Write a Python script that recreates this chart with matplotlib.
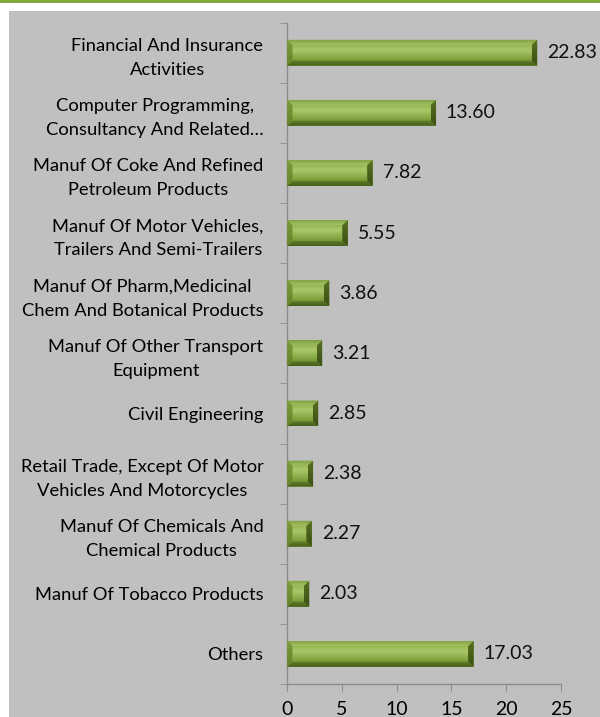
import numpy as np
import matplotlib.pyplot as plt
from matplotlib.colors import to_rgb
from matplotlib.patches import Rectangle, Polygon

# sectors, top to bottom
sectors = [
    "Financial And Insurance\nActivities",
    "Computer Programming,\nConsultancy And Related…",
    "Manuf Of Coke And Refined\nPetroleum Products",
    "Manuf Of Motor Vehicles,\nTrailers And Semi-Trailers",
    "Manuf Of Pharm,Medicinal\nChem And Botanical Products",
    "Manuf Of Other Transport\nEquipment",
    "Civil Engineering",
    "Retail Trade, Except Of Motor\nVehicles And Motorcycles",
    "Manuf Of Chemicals And\nChemical Products",
    "Manuf Of Tobacco Products",
    "Others",
]
shares = [22.83, 13.60, 7.82, 5.55, 3.86, 3.21, 2.85, 2.38, 2.27, 2.03, 17.03]
xticks = [0, 5, 10, 15, 20, 25]

plt.rcParams['font.family'] = ['Lato', 'DejaVu Sans']

fig = plt.figure(figsize=(6, 7.17), dpi=100)
fig.patch.set_facecolor('white')

# grey panel and green rule at the top
fig.patches.append(Rectangle((9 / 600, 0), 1, 1 - 11 / 717, transform=fig.transFigure,
                             facecolor='#c0c0c0', edgecolor='none', zorder=-2))
fig.patches.append(Rectangle((0, 1 - 2.5 / 717), 1, 2.5 / 717, transform=fig.transFigure,
                             facecolor='#7ea73c', edgecolor='none', zorder=-2))

ax = fig.add_axes([287 / 600, 1 - 684 / 717, (561 - 287) / 600, (684 - 22.7) / 717])
ax.set_facecolor('none')


def gradient(c_top, c_bot, horizontal=False, n=32):
    a, b = np.array(to_rgb(c_top)), np.array(to_rgb(c_bot))
    t = np.linspace(0, 1, n)[:, None]
    g = a + (b - a) * t
    if horizontal:
        return g[None, :, :]
    return g[:, None, :]


def shaded(poly, img, x0, x1, y0, y1):
    p = Polygon(poly, closed=True, facecolor='none', edgecolor='none')
    ax.add_patch(p)
    im = ax.imshow(img, extent=(x0, x1, y1, y0), origin='upper', aspect='auto',
                   interpolation='bilinear', zorder=3)
    im.set_clip_path(p)


n = len(sectors)
ypos = list(range(n))
h = 0.43
bars = ax.barh(ypos, shares, height=h, color='#86a843', edgecolor='none', zorder=2)

# bevelled faces on each bar
dx = 0.5    # about 5 px horizontally
dy = 0.085  # about 5 px vertically
face = np.vstack([gradient('#96b654', '#a8c868', n=10)[:, 0],
                  gradient('#a8c868', '#789a36', n=22)[:, 0]])[:, None, :]
for y, v in zip(ypos, shares):
    top, bot = y - h / 2, y + h / 2   # inverted axis: top is smaller y
    ex = min(dx, v / 2)
    shaded([(ex, top + dy), (v - ex, top + dy), (v - ex, bot - dy), (ex, bot - dy)],
           face, 0, v, top + dy, bot - dy)
    shaded([(0, top), (v, top), (v - ex, top + dy), (ex, top + dy)],
           gradient('#7d9c3e', '#a2c262'), 0, v, top, top + dy)
    shaded([(0, bot), (v, bot), (v - ex, bot - dy), (ex, bot - dy)],
           gradient('#63822a', '#465e1a'), 0, v, bot - dy, bot)
    shaded([(v, top), (v, bot), (v - ex, bot - dy), (v - ex, top + dy)],
           gradient('#566f22', '#3a5014'), v - ex, v, top, bot)
    shaded([(0, top), (0, bot), (ex, bot - dy), (ex, top + dy)],
           gradient('#7a9a3a', '#66852c'), 0, ex, top, bot)
    ax.text(v + 0.9, y, f"{v:.2f}", va='center', ha='left', fontsize=14, color='#111111')

ax.set_xlim(0, 25)
ax.set_ylim(n - 0.5, -0.5)
ax.set_xticks(xticks)
ax.set_xticklabels([str(t) for t in xticks], fontsize=14)
ax.set_yticks(ypos)
ax.set_yticklabels(sectors, fontsize=13.2, multialignment='center', linespacing=1.6)
ax.set_yticks([i - 0.5 for i in range(n + 1)], minor=True)
ax.tick_params(axis='y', which='major', length=0, pad=17)
ax.tick_params(axis='y', which='minor', length=5, color='#8c8c8c', direction='out')
ax.tick_params(axis='x', length=5, color='#8c8c8c', direction='out', pad=7)

for s in ['top', 'right']:
    ax.spines[s].set_visible(False)
for s in ['left', 'bottom']:
    ax.spines[s].set_color('#8c8c8c')
    ax.spines[s].set_linewidth(1)

fig.savefig('out.png', dpi=100, facecolor=fig.get_facecolor())
